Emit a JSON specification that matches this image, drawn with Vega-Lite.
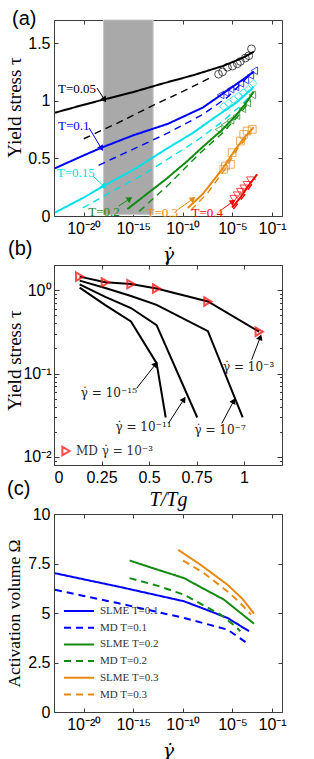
{
 "$schema": "https://vega.github.io/schema/vega-lite/v6.json",
 "padding": {"left": 4, "top": 8, "right": 0, "bottom": 0},
 "bounds": "flush",
 "spacing": 49,
 "resolve": {"scale": {"color": "independent", "strokeDash": "independent", "strokeWidth": "independent", "shape": "independent"}},
 "config": {
  "view": {"stroke": "#3c3c3c", "strokeWidth": 1},
  "axis": {"domain": false, "grid": false, "labelFont": "Liberation Sans", "labelFontSize": 16, "labelColor": "#000000", "tickColor": "#3c3c3c", "tickSize": -4, "labelPadding": 8, "titleFont": "Liberation Serif", "titleFontSize": 19, "titleFontWeight": "normal", "titleColor": "#000000"},
  "title": {"font": "Liberation Sans", "fontSize": 20, "fontWeight": "normal", "color": "#000000", "anchor": "start", "frame": "group", "baseline": "alphabetic"},
  "legend": {"labelFont": "Liberation Serif", "labelColor": "#333333", "padding": 0, "titlePadding": 0}
 },
 "vconcat": [
  {
   "width": 228, "height": 196,
   "title": {"text": "(a)", "dx": -42, "offset": -9},
   "resolve": {"axis": {"x": "independent", "y": "independent"}},
   "layer": [
    {
     "data": {"values": [{"from": 1e-18, "to": 1e-13, "lo": 0.012, "hi": 1.7}]},
     "mark": {"type": "rect", "fill": "#a9a9a9", "stroke": "#c6c6c6", "strokeWidth": 1},
     "encoding": {
      "x": {"field": "from", "type": "quantitative", "scale": {"type": "log", "domain": [1e-23, 1]}, "axis": {"values": [1e-20, 1e-15, 1e-10, 1e-5, 1e-1], "labelExpr": "round(log(datum.value)/LN10) == -20 ? '10⁻²⁰' : round(log(datum.value)/LN10) == -15 ? '10⁻¹⁵' : round(log(datum.value)/LN10) == -10 ? '10⁻¹⁰' : round(log(datum.value)/LN10) == -5 ? '10⁻⁵' : '10⁻¹'", "title": "γ̇", "titleFont": "DejaVu Serif", "titleFontStyle": "italic", "titleFontSize": 19, "titleY": 38, "titleBaseline": "middle"}},
      "x2": {"field": "to"},
      "y": {"field": "lo", "type": "quantitative", "scale": {"domain": [0, 1.7]}, "axis": {"values": [0, 0.5, 1, 1.5], "labelExpr": "datum.value == 0 ? '0' : datum.value == 0.5 ? '0.5' : datum.value == 1 ? '1' : '1.5'", "title": "Yield stress τ", "titleX": -40, "titleY": 87, "titleBaseline": "middle"}},
      "y2": {"field": "hi"}
     }
    },
    {
     "data": {"values": [
      {"T": "0.05", "curve": "solid", "rate": 1.26e-23, "tau": 0.896},
      {"T": "0.05", "curve": "solid", "rate": 1e-20, "tau": 0.965},
      {"T": "0.05", "curve": "solid", "rate": 1e-18, "tau": 1.01},
      {"T": "0.05", "curve": "solid", "rate": 1e-15, "tau": 1.075},
      {"T": "0.05", "curve": "solid", "rate": 1e-12, "tau": 1.15},
      {"T": "0.05", "curve": "solid", "rate": 1e-9, "tau": 1.22},
      {"T": "0.05", "curve": "solid", "rate": 1e-6, "tau": 1.30},
      {"T": "0.05", "curve": "solid", "rate": 1e-4, "tau": 1.37},
      {"T": "0.05", "curve": "solid", "rate": 1.41e-3, "tau": 1.425},
      {"T": "0.05", "curve": "dashed", "rate": 1e-20, "tau": 0.67},
      {"T": "0.05", "curve": "dashed", "rate": 3.16e-17, "tau": 0.81},
      {"T": "0.05", "curve": "dashed", "rate": 1e-13, "tau": 0.96},
      {"T": "0.05", "curve": "dashed", "rate": 1e-10, "tau": 1.08},
      {"T": "0.05", "curve": "dashed", "rate": 1e-7, "tau": 1.21},
      {"T": "0.1", "curve": "solid", "rate": 1.26e-23, "tau": 0.414},
      {"T": "0.1", "curve": "solid", "rate": 1e-20, "tau": 0.526},
      {"T": "0.1", "curve": "solid", "rate": 1e-18, "tau": 0.60},
      {"T": "0.1", "curve": "solid", "rate": 1e-15, "tau": 0.70},
      {"T": "0.1", "curve": "solid", "rate": 3.16e-12, "tau": 0.80},
      {"T": "0.1", "curve": "solid", "rate": 1e-10, "tau": 0.86},
      {"T": "0.1", "curve": "solid", "rate": 1e-8, "tau": 0.94},
      {"T": "0.1", "curve": "solid", "rate": 6.31e-7, "tau": 1.047},
      {"T": "0.1", "curve": "solid", "rate": 3.16e-5, "tau": 1.15},
      {"T": "0.1", "curve": "solid", "rate": 1.41e-3, "tau": 1.25},
      {"T": "0.1", "curve": "dashed", "rate": 3.16e-19, "tau": 0.44},
      {"T": "0.1", "curve": "dashed", "rate": 1e-15, "tau": 0.58},
      {"T": "0.1", "curve": "dashed", "rate": 3.16e-12, "tau": 0.72},
      {"T": "0.1", "curve": "dashed", "rate": 1e-8, "tau": 0.88},
      {"T": "0.1", "curve": "dashed", "rate": 3.16e-6, "tau": 1.03},
      {"T": "0.1", "curve": "dashed", "rate": 5.01e-4, "tau": 1.22},
      {"T": "0.15", "curve": "solid", "rate": 1.26e-23, "tau": 0.03},
      {"T": "0.15", "curve": "solid", "rate": 1e-20, "tau": 0.16},
      {"T": "0.15", "curve": "solid", "rate": 1e-18, "tau": 0.26},
      {"T": "0.15", "curve": "solid", "rate": 1e-15, "tau": 0.40},
      {"T": "0.15", "curve": "solid", "rate": 2e-12, "tau": 0.58},
      {"T": "0.15", "curve": "solid", "rate": 1e-9, "tau": 0.72},
      {"T": "0.15", "curve": "solid", "rate": 2e-7, "tau": 0.86},
      {"T": "0.15", "curve": "solid", "rate": 3.16e-5, "tau": 0.99},
      {"T": "0.15", "curve": "solid", "rate": 1.41e-3, "tau": 1.12},
      {"T": "0.15", "curve": "dashed", "rate": 7.94e-21, "tau": 0.07},
      {"T": "0.15", "curve": "dashed", "rate": 1e-17, "tau": 0.22},
      {"T": "0.15", "curve": "dashed", "rate": 1e-14, "tau": 0.36},
      {"T": "0.15", "curve": "dashed", "rate": 3.98e-12, "tau": 0.50},
      {"T": "0.15", "curve": "dashed", "rate": 3.16e-9, "tau": 0.66},
      {"T": "0.15", "curve": "dashed", "rate": 1e-6, "tau": 0.82},
      {"T": "0.15", "curve": "dashed", "rate": 1e-4, "tau": 0.97},
      {"T": "0.15", "curve": "dashed", "rate": 1e-3, "tau": 1.06},
      {"T": "0.2", "curve": "solid", "rate": 2.51e-16, "tau": 0.06},
      {"T": "0.2", "curve": "solid", "rate": 3.16e-14, "tau": 0.20},
      {"T": "0.2", "curve": "solid", "rate": 2e-12, "tau": 0.32},
      {"T": "0.2", "curve": "solid", "rate": 3.16e-10, "tau": 0.48},
      {"T": "0.2", "curve": "solid", "rate": 1.26e-8, "tau": 0.607},
      {"T": "0.2", "curve": "solid", "rate": 1e-6, "tau": 0.75},
      {"T": "0.2", "curve": "solid", "rate": 2e-5, "tau": 0.867},
      {"T": "0.2", "curve": "solid", "rate": 1.58e-4, "tau": 0.96},
      {"T": "0.2", "curve": "solid", "rate": 1.41e-3, "tau": 1.08},
      {"T": "0.2", "curve": "dashed", "rate": 3.98e-15, "tau": 0.04},
      {"T": "0.2", "curve": "dashed", "rate": 3.98e-12, "tau": 0.275},
      {"T": "0.2", "curve": "dashed", "rate": 3.98e-9, "tau": 0.535},
      {"T": "0.2", "curve": "dashed", "rate": 1e-6, "tau": 0.72},
      {"T": "0.2", "curve": "dashed", "rate": 3.16e-5, "tau": 0.86},
      {"T": "0.2", "curve": "dashed", "rate": 6.31e-4, "tau": 1.0},
      {"T": "0.3", "curve": "solid", "rate": 3.16e-10, "tau": 0.07},
      {"T": "0.3", "curve": "solid", "rate": 1e-8, "tau": 0.19},
      {"T": "0.3", "curve": "solid", "rate": 9.3e-7, "tau": 0.405},
      {"T": "0.3", "curve": "solid", "rate": 2e-5, "tau": 0.578},
      {"T": "0.3", "curve": "solid", "rate": 1.58e-4, "tau": 0.68},
      {"T": "0.3", "curve": "solid", "rate": 1.41e-3, "tau": 0.77},
      {"T": "0.3", "curve": "dashed", "rate": 6.31e-10, "tau": 0.05},
      {"T": "0.3", "curve": "dashed", "rate": 3.16e-8, "tau": 0.2},
      {"T": "0.3", "curve": "dashed", "rate": 1.58e-6, "tau": 0.4},
      {"T": "0.3", "curve": "dashed", "rate": 3.16e-5, "tau": 0.58},
      {"T": "0.3", "curve": "dashed", "rate": 6.31e-4, "tau": 0.72},
      {"T": "0.4", "curve": "solid", "rate": 9.3e-6, "tau": 0.072},
      {"T": "0.4", "curve": "solid", "rate": 6.31e-5, "tau": 0.16},
      {"T": "0.4", "curve": "solid", "rate": 3.98e-4, "tau": 0.26},
      {"T": "0.4", "curve": "solid", "rate": 3.16e-3, "tau": 0.362},
      {"T": "0.4", "curve": "dashed", "rate": 1.26e-5, "tau": 0.06},
      {"T": "0.4", "curve": "dashed", "rate": 1.58e-4, "tau": 0.18},
      {"T": "0.4", "curve": "dashed", "rate": 2e-3, "tau": 0.32}
     ]},
     "mark": {"type": "line"},
     "encoding": {
      "x": {"field": "rate", "type": "quantitative", "scale": {"type": "log", "domain": [1e-23, 1]}, "axis": {"orient": "top", "labels": false, "title": null, "values": [1e-20, 1e-15, 1e-10, 1e-5, 1e-1]}},
      "y": {"field": "tau", "type": "quantitative", "scale": {"domain": [0, 1.7]}, "axis": {"orient": "right", "labels": false, "title": null, "values": [0, 0.5, 1, 1.5]}},
      "color": {"field": "T", "type": "nominal", "scale": {"domain": ["0.05", "0.1", "0.15", "0.2", "0.3", "0.4"], "range": ["#000000", "#0000ff", "#00e0e8", "#128a12", "#e68a14", "#ff0000"]}, "legend": null},
      "strokeDash": {"field": "curve", "type": "nominal", "scale": {"domain": ["solid", "dashed"], "range": [[1, 0], [7, 5]]}, "legend": null},
      "strokeWidth": {"field": "curve", "type": "nominal", "scale": {"domain": ["solid", "dashed"], "range": [2, 1.4]}, "legend": null}
     }
    },
    {
     "data": {"values": [
      {"T": "0.05", "rate": 3.98e-7, "tau": 1.23}, {"T": "0.05", "rate": 1e-6, "tau": 1.25}, {"T": "0.05", "rate": 3.16e-6, "tau": 1.29}, {"T": "0.05", "rate": 1e-5, "tau": 1.30}, {"T": "0.05", "rate": 3.16e-5, "tau": 1.32}, {"T": "0.05", "rate": 6.31e-5, "tau": 1.34}, {"T": "0.05", "rate": 2e-4, "tau": 1.37}, {"T": "0.05", "rate": 4.47e-4, "tau": 1.39}, {"T": "0.05", "rate": 8.32e-4, "tau": 1.45},
      {"T": "0.1", "rate": 6.31e-7, "tau": 1.05}, {"T": "0.1", "rate": 2e-6, "tau": 1.07}, {"T": "0.1", "rate": 6.31e-6, "tau": 1.10}, {"T": "0.1", "rate": 2e-5, "tau": 1.12}, {"T": "0.1", "rate": 6.31e-5, "tau": 1.15}, {"T": "0.1", "rate": 2e-4, "tau": 1.18}, {"T": "0.1", "rate": 6.31e-4, "tau": 1.22}, {"T": "0.1", "rate": 1.58e-3, "tau": 1.26},
      {"T": "0.15", "rate": 1.26e-6, "tau": 0.95}, {"T": "0.15", "rate": 3.98e-6, "tau": 0.98}, {"T": "0.15", "rate": 1.26e-5, "tau": 1.01}, {"T": "0.15", "rate": 3.98e-5, "tau": 1.04}, {"T": "0.15", "rate": 1.26e-4, "tau": 1.07}, {"T": "0.15", "rate": 3.98e-4, "tau": 1.10}, {"T": "0.15", "rate": 1.26e-3, "tau": 1.15},
      {"T": "0.2", "rate": 3.98e-7, "tau": 0.75}, {"T": "0.2", "rate": 1.58e-6, "tau": 0.79}, {"T": "0.2", "rate": 6.31e-6, "tau": 0.83}, {"T": "0.2", "rate": 2.51e-5, "tau": 0.87}, {"T": "0.2", "rate": 1e-4, "tau": 0.93}, {"T": "0.2", "rate": 3.16e-4, "tau": 0.98}, {"T": "0.2", "rate": 1e-3, "tau": 1.05},
      {"T": "0.3", "rate": 1.35e-6, "tau": 0.405}, {"T": "0.3", "rate": 2e-6, "tau": 0.434}, {"T": "0.3", "rate": 6.31e-6, "tau": 0.448}, {"T": "0.3", "rate": 9.3e-6, "tau": 0.549}, {"T": "0.3", "rate": 6.46e-5, "tau": 0.65}, {"T": "0.3", "rate": 1.38e-4, "tau": 0.708}, {"T": "0.3", "rate": 3.02e-4, "tau": 0.737}, {"T": "0.3", "rate": 1e-3, "tau": 0.752},
      {"T": "0.4", "rate": 1.38e-5, "tau": 0.15}, {"T": "0.4", "rate": 2.95e-5, "tau": 0.18}, {"T": "0.4", "rate": 6.31e-5, "tau": 0.21}, {"T": "0.4", "rate": 1.38e-4, "tau": 0.24}, {"T": "0.4", "rate": 3.02e-4, "tau": 0.27}, {"T": "0.4", "rate": 6.46e-4, "tau": 0.31}
     ]},
     "mark": {"type": "point", "filled": false, "size": 60, "strokeWidth": 1},
     "encoding": {
      "x": {"field": "rate", "type": "quantitative", "scale": {"type": "log", "domain": [1e-23, 1]}, "axis": null},
      "y": {"field": "tau", "type": "quantitative", "scale": {"domain": [0, 1.7]}, "axis": null},
      "color": {"field": "T", "type": "nominal", "scale": {"domain": ["0.05", "0.1", "0.15", "0.2", "0.3", "0.4"], "range": ["#000000", "#0000ff", "#00e0e8", "#128a12", "#e68a14", "#ff0000"]}, "legend": null},
      "shape": {"field": "T", "type": "nominal", "scale": {"domain": ["0.05", "0.1", "0.15", "0.2", "0.3", "0.4"], "range": ["circle", "triangle-left", "diamond", "triangle-left", "square", "triangle-down"]}, "legend": null}
     }
    },
    {
     "data": {"values": [
      {"T": "0.05", "label": "T=0.05", "tx": 2.14e-21, "ty": 1.10, "x0": 2.19e-19, "y0": 1.11, "x1": 1.1e-18, "y1": 1.015, "angle": 147},
      {"T": "0.1", "label": "T=0.1", "tx": 1e-21, "ty": 0.78, "x0": 3.47e-20, "y0": 0.763, "x1": 5.5e-19, "y1": 0.592, "angle": 149},
      {"T": "0.15", "label": "T=0.15", "tx": 1.58e-21, "ty": 0.37, "x0": 8.5e-20, "y0": 0.347, "x1": 1e-18, "y1": 0.26, "angle": 133},
      {"T": "0.2", "label": "T=0.2", "tx": 1.1e-18, "ty": 0.037, "x0": 3.55e-17, "y0": 0.087, "x1": 3.63e-16, "y1": 0.145, "angle": 57},
      {"T": "0.3", "label": "T=0.3", "tx": 8.5e-13, "ty": 0.029, "x0": 2.75e-11, "y0": 0.052, "x1": 8.9e-10, "y1": 0.145, "angle": 55},
      {"T": "0.4", "label": "T=0.4", "tx": 2.9e-8, "ty": 0.029, "x0": 9.3e-7, "y0": 0.058, "x1": 9.5e-6, "y1": 0.121, "angle": 54}
     ]},
     "layer": [
      {
       "mark": {"type": "rule", "strokeWidth": 1},
       "encoding": {
        "x": {"field": "x0", "type": "quantitative", "scale": {"type": "log", "domain": [1e-23, 1]}, "axis": null},
        "x2": {"field": "x1"},
        "y": {"field": "y0", "type": "quantitative", "scale": {"domain": [0, 1.7]}, "axis": null},
        "y2": {"field": "y1"},
        "color": {"field": "T", "type": "nominal", "scale": {"domain": ["0.05", "0.1", "0.15", "0.2", "0.3", "0.4"], "range": ["#000000", "#0000ff", "#00e0e8", "#128a12", "#e68a14", "#ff0000"]}, "legend": null}
       }
      },
      {
       "mark": {"type": "point", "shape": "triangle", "filled": true, "size": 45, "opacity": 1},
       "encoding": {
        "x": {"field": "x1", "type": "quantitative", "scale": {"type": "log", "domain": [1e-23, 1]}, "axis": null},
        "y": {"field": "y1", "type": "quantitative", "scale": {"domain": [0, 1.7]}, "axis": null},
        "angle": {"field": "angle", "type": "quantitative", "scale": null},
        "color": {"field": "T", "type": "nominal", "scale": {"domain": ["0.05", "0.1", "0.15", "0.2", "0.3", "0.4"], "range": ["#000000", "#0000ff", "#00e0e8", "#128a12", "#e68a14", "#ff0000"]}, "legend": null}
       }
      },
      {
       "mark": {"type": "text", "font": "Liberation Serif", "fontSize": 13, "baseline": "middle", "align": "center"},
       "encoding": {
        "x": {"field": "tx", "type": "quantitative", "scale": {"type": "log", "domain": [1e-23, 1]}, "axis": null},
        "y": {"field": "ty", "type": "quantitative", "scale": {"domain": [0, 1.7]}, "axis": null},
        "text": {"field": "label"},
        "color": {"field": "T", "type": "nominal", "scale": {"domain": ["0.05", "0.1", "0.15", "0.2", "0.3", "0.4"], "range": ["#000000", "#0000ff", "#00e0e8", "#128a12", "#e68a14", "#ff0000"]}, "legend": null}
       }
      }
     ]
    }
   ]
  },
  {
   "width": 228, "height": 200,
   "title": {"text": "(b)", "dx": -46, "offset": 6},
   "resolve": {"axis": {"x": "independent", "y": "independent"}},
   "layer": [
    {
     "data": {"values": [
      {"rate": "1e-3", "TTg": 0.135, "tau": 1.45}, {"rate": "1e-3", "TTg": 0.27, "tau": 1.24}, {"rate": "1e-3", "TTg": 0.405, "tau": 1.18}, {"rate": "1e-3", "TTg": 0.54, "tau": 1.045}, {"rate": "1e-3", "TTg": 0.81, "tau": 0.73}, {"rate": "1e-3", "TTg": 1.08, "tau": 0.317},
      {"rate": "1e-7", "TTg": 0.135, "tau": 1.30}, {"rate": "1e-7", "TTg": 0.27, "tau": 1.06}, {"rate": "1e-7", "TTg": 0.405, "tau": 0.85}, {"rate": "1e-7", "TTg": 0.54, "tau": 0.665}, {"rate": "1e-7", "TTg": 0.81, "tau": 0.322}, {"rate": "1e-7", "TTg": 0.993, "tau": 0.0297},
      {"rate": "1e-11", "TTg": 0.135, "tau": 1.17}, {"rate": "1e-11", "TTg": 0.27, "tau": 0.83}, {"rate": "1e-11", "TTg": 0.405, "tau": 0.61}, {"rate": "1e-11", "TTg": 0.54, "tau": 0.38}, {"rate": "1e-11", "TTg": 0.754, "tau": 0.0297},
      {"rate": "1e-15", "TTg": 0.135, "tau": 1.07}, {"rate": "1e-15", "TTg": 0.27, "tau": 0.66}, {"rate": "1e-15", "TTg": 0.405, "tau": 0.42}, {"rate": "1e-15", "TTg": 0.54, "tau": 0.133}, {"rate": "1e-15", "TTg": 0.588, "tau": 0.0297}
     ]},
     "mark": {"type": "line", "color": "#000000", "strokeWidth": 2},
     "encoding": {
      "x": {"field": "TTg", "type": "quantitative", "scale": {"domain": [0, 1.2]}, "axis": {"values": [0, 0.25, 0.5, 0.75, 1], "labelExpr": "datum.value == 0 ? '0' : datum.value == 0.25 ? '0.25' : datum.value == 0.5 ? '0.5' : datum.value == 0.75 ? '0.75' : '1'", "title": "T/Tg", "titleFontStyle": "italic", "titleFontSize": 20, "titleY": 34, "titleBaseline": "middle"}},
      "y": {"field": "tau", "type": "quantitative", "scale": {"type": "log", "domain": [0.008, 2]}, "axis": {"values": [0.008, 0.009, 0.01, 0.02, 0.03, 0.04, 0.05, 0.06, 0.07, 0.08, 0.09, 0.1, 0.2, 0.3, 0.4, 0.5, 0.6, 0.7, 0.8, 0.9, 1, 2], "labelExpr": "datum.value == 1 ? '10⁰' : datum.value == 0.1 ? '10⁻¹' : datum.value == 0.01 ? '10⁻²' : ''", "tickSize": {"condition": {"test": "datum.value == 1 || datum.value == 0.1 || datum.value == 0.01", "value": -5}, "value": -2.5}, "title": "Yield stress τ", "titleX": -40, "titleY": 95, "titleBaseline": "middle"}},
      "detail": {"field": "rate", "type": "nominal"}
     }
    },
    {
     "data": {"values": [
      {"src": "MD γ̇ = 10⁻³", "TTg": 0.135, "tau": 1.45}, {"src": "MD γ̇ = 10⁻³", "TTg": 0.27, "tau": 1.24}, {"src": "MD γ̇ = 10⁻³", "TTg": 0.405, "tau": 1.18}, {"src": "MD γ̇ = 10⁻³", "TTg": 0.54, "tau": 1.045}, {"src": "MD γ̇ = 10⁻³", "TTg": 0.81, "tau": 0.73}, {"src": "MD γ̇ = 10⁻³", "TTg": 1.08, "tau": 0.317}
     ]},
     "mark": {"type": "point", "shape": "triangle-right", "filled": false, "size": 70, "strokeWidth": 2},
     "encoding": {
      "x": {"field": "TTg", "type": "quantitative", "scale": {"domain": [0, 1.2]}, "axis": {"orient": "top", "labels": false, "title": null, "values": [0, 0.25, 0.5, 0.75, 1]}},
      "y": {"field": "tau", "type": "quantitative", "scale": {"type": "log", "domain": [0.008, 2]}, "axis": {"orient": "right", "labels": false, "title": null, "values": [0.008, 0.009, 0.01, 0.02, 0.03, 0.04, 0.05, 0.06, 0.07, 0.08, 0.09, 0.1, 0.2, 0.3, 0.4, 0.5, 0.6, 0.7, 0.8, 0.9, 1, 2], "tickSize": {"condition": {"test": "datum.value == 1 || datum.value == 0.1 || datum.value == 0.01", "value": -5}, "value": -2.5}}},
      "color": {"field": "src", "type": "nominal", "scale": {"domain": ["MD γ̇ = 10⁻³"], "range": ["#ff0000"]}, "legend": {"orient": "none", "legendX": 6, "legendY": 180, "title": null, "symbolType": "triangle-right", "symbolSize": 70, "symbolStrokeWidth": 2, "labelFont": "DejaVu Serif", "labelFontSize": 12, "labelOffset": 4}}
     }
    },
    {
     "data": {"values": [
      {"label": "γ̇ = 10⁻³", "tx": 1.024, "ty": 0.121, "x0": 1.04, "y0": 0.146, "x1": 1.084, "y1": 0.266, "angle": 21},
      {"label": "γ̇ = 10⁻¹⁵", "tx": 0.289, "ty": 0.058, "x0": 0.435, "y0": 0.0665, "x1": 0.532, "y1": 0.127, "angle": 38},
      {"label": "γ̇ = 10⁻¹¹", "tx": 0.471, "ty": 0.023, "x0": 0.602, "y0": 0.0252, "x1": 0.681, "y1": 0.048, "angle": 33},
      {"label": "γ̇ = 10⁻⁷", "tx": 0.874, "ty": 0.0209, "x0": 0.883, "y0": 0.0252, "x1": 0.944, "y1": 0.046, "angle": 28}
     ]},
     "layer": [
      {
       "mark": {"type": "rule", "strokeWidth": 1, "color": "#000000"},
       "encoding": {
        "x": {"field": "x0", "type": "quantitative", "scale": {"domain": [0, 1.2]}, "axis": null},
        "x2": {"field": "x1"},
        "y": {"field": "y0", "type": "quantitative", "scale": {"type": "log", "domain": [0.008, 2]}, "axis": null},
        "y2": {"field": "y1"}
       }
      },
      {
       "mark": {"type": "point", "shape": "triangle", "filled": true, "size": 45, "color": "#000000", "opacity": 1},
       "encoding": {
        "x": {"field": "x1", "type": "quantitative", "scale": {"domain": [0, 1.2]}, "axis": null},
        "y": {"field": "y1", "type": "quantitative", "scale": {"type": "log", "domain": [0.008, 2]}, "axis": null},
        "angle": {"field": "angle", "type": "quantitative", "scale": null}
       }
      },
      {
       "mark": {"type": "text", "font": "DejaVu Serif", "fontSize": 12, "baseline": "middle", "align": "center", "color": "#222222"},
       "encoding": {
        "x": {"field": "tx", "type": "quantitative", "scale": {"domain": [0, 1.2]}, "axis": null},
        "y": {"field": "ty", "type": "quantitative", "scale": {"type": "log", "domain": [0.008, 2]}, "axis": null},
        "text": {"field": "label"}
       }
      }
     ]
    }
   ]
  },
  {
   "width": 228, "height": 198,
   "title": {"text": "(c)", "dx": -47, "offset": 7},
   "resolve": {"axis": {"x": "independent", "y": "independent"}},
   "data": {"values": [
    {"series": "SLME T=0.1", "rate": 1.26e-23, "omega": 7.01}, {"series": "SLME T=0.1", "rate": 1e-20, "omega": 6.70}, {"series": "SLME T=0.1", "rate": 2.63e-17, "omega": 6.34}, {"series": "SLME T=0.1", "rate": 1e-13, "omega": 5.94}, {"series": "SLME T=0.1", "rate": 1.35e-10, "omega": 5.59}, {"series": "SLME T=0.1", "rate": 3.16e-8, "omega": 5.14}, {"series": "SLME T=0.1", "rate": 3.16e-6, "omega": 4.75}, {"series": "SLME T=0.1", "rate": 4.79e-4, "omega": 4.08},
    {"series": "MD T=0.1", "rate": 1.26e-23, "omega": 6.17}, {"series": "MD T=0.1", "rate": 1e-20, "omega": 5.86}, {"series": "MD T=0.1", "rate": 2.63e-17, "omega": 5.5}, {"series": "MD T=0.1", "rate": 1e-13, "omega": 5.1}, {"series": "MD T=0.1", "rate": 1.35e-10, "omega": 4.75}, {"series": "MD T=0.1", "rate": 3.16e-6, "omega": 4.16}, {"series": "MD T=0.1", "rate": 4.79e-4, "omega": 3.41},
    {"series": "SLME T=0.2", "rate": 4.27e-16, "omega": 7.65}, {"series": "SLME T=0.2", "rate": 3.16e-13, "omega": 7.18}, {"series": "SLME T=0.2", "rate": 1.35e-10, "omega": 6.76}, {"series": "SLME T=0.2", "rate": 1e-8, "omega": 6.25}, {"series": "SLME T=0.2", "rate": 1.45e-6, "omega": 5.67}, {"series": "SLME T=0.2", "rate": 5.01e-5, "omega": 5.05}, {"series": "SLME T=0.2", "rate": 1.51e-3, "omega": 4.46},
    {"series": "MD T=0.2", "rate": 4.27e-16, "omega": 6.76}, {"series": "MD T=0.2", "rate": 3.16e-13, "omega": 6.37}, {"series": "MD T=0.2", "rate": 1.35e-10, "omega": 5.92}, {"series": "MD T=0.2", "rate": 6.31e-7, "omega": 4.92}, {"series": "MD T=0.2", "rate": 1.26e-5, "omega": 4.41}, {"series": "MD T=0.2", "rate": 6.31e-5, "omega": 4.08},
    {"series": "SLME T=0.3", "rate": 3.39e-11, "omega": 8.19}, {"series": "SLME T=0.3", "rate": 6.31e-9, "omega": 7.43}, {"series": "SLME T=0.3", "rate": 3.16e-6, "omega": 6.43}, {"series": "SLME T=0.3", "rate": 1e-4, "omega": 5.72}, {"series": "SLME T=0.3", "rate": 1.51e-3, "omega": 4.97},
    {"series": "MD T=0.3", "rate": 1.07e-10, "omega": 7.65}, {"series": "MD T=0.3", "rate": 1.38e-8, "omega": 7.01}, {"series": "MD T=0.3", "rate": 3.16e-6, "omega": 6.09}, {"series": "MD T=0.3", "rate": 6.31e-5, "omega": 5.5}, {"series": "MD T=0.3", "rate": 7.59e-4, "omega": 4.92}
   ]},
   "layer": [
    {
     "mark": {"type": "line", "strokeWidth": 2},
     "encoding": {
      "x": {"field": "rate", "type": "quantitative", "scale": {"type": "log", "domain": [1e-23, 1]}, "axis": {"values": [1e-20, 1e-15, 1e-10, 1e-5, 1e-1], "labelExpr": "round(log(datum.value)/LN10) == -20 ? '10⁻²⁰' : round(log(datum.value)/LN10) == -15 ? '10⁻¹⁵' : round(log(datum.value)/LN10) == -10 ? '10⁻¹⁰' : round(log(datum.value)/LN10) == -5 ? '10⁻⁵' : '10⁻¹'", "title": "γ̇", "titleFont": "DejaVu Serif", "titleFontStyle": "italic", "titleFontSize": 19, "titleY": 38, "titleBaseline": "middle"}},
      "y": {"field": "omega", "type": "quantitative", "scale": {"domain": [0, 10]}, "axis": {"values": [0, 2.5, 5, 7.5, 10], "labelExpr": "datum.value == 0 ? '0' : datum.value == 2.5 ? '2.5' : datum.value == 5 ? '5' : datum.value == 7.5 ? '7.5' : '10'", "title": "Activation volume Ω", "titleFontSize": 17.5, "titleX": -40, "titleY": 99, "titleBaseline": "middle"}},
      "color": {"field": "series", "type": "nominal", "scale": {"domain": ["SLME T=0.1", "MD T=0.1", "SLME T=0.2", "MD T=0.2", "SLME T=0.3", "MD T=0.3"], "range": ["#0000ff", "#0000ff", "#128a12", "#128a12", "#e68a14", "#e68a14"]}, "legend": {"orient": "none", "legendX": 18, "legendY": 90, "title": null, "symbolType": "M-2.5,0H2.5", "symbolSize": 144, "symbolStrokeWidth": 2, "labelFontSize": 11, "labelOffset": 14, "rowPadding": 4.7}},
      "strokeDash": {"field": "series", "type": "nominal", "scale": {"domain": ["SLME T=0.1", "MD T=0.1", "SLME T=0.2", "MD T=0.2", "SLME T=0.3", "MD T=0.3"], "range": [[1, 0], [7, 5], [1, 0], [7, 5], [1, 0], [7, 5]]}, "legend": {"orient": "none", "legendX": 18, "legendY": 90, "title": null, "symbolType": "M-2.5,0H2.5", "symbolSize": 144, "symbolStrokeWidth": 2, "labelFontSize": 11, "labelOffset": 14, "rowPadding": 4.7}}
     }
    },
    {
     "mark": {"type": "point", "opacity": 0},
     "encoding": {
      "x": {"field": "rate", "type": "quantitative", "scale": {"type": "log", "domain": [1e-23, 1]}, "axis": {"orient": "top", "labels": false, "title": null, "values": [1e-20, 1e-15, 1e-10, 1e-5, 1e-1]}},
      "y": {"field": "omega", "type": "quantitative", "scale": {"domain": [0, 10]}, "axis": {"orient": "right", "labels": false, "title": null, "values": [0, 2.5, 5, 7.5, 10]}}
     }
    }
   ]
  }
 ]
}
